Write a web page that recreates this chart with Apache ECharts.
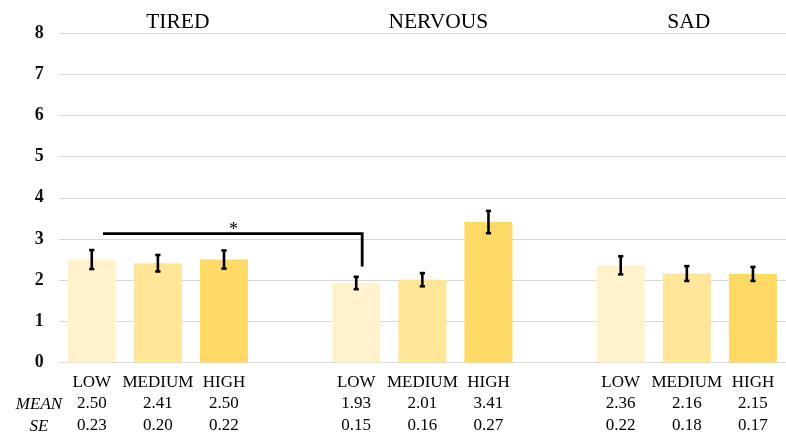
<!DOCTYPE html>
<html>
<head>
<meta charset="utf-8">
<script src="https://cdn.jsdelivr.net/npm/echarts@6/dist/echarts.min.js"></script>
<style>html,body{margin:0;padding:0;background:#fff}#c{width:786px;height:436px}</style>
</head>
<body>
<div id="c"></div>
<script>
// ---- data ----
var groups = ['TIRED', 'NERVOUS', 'SAD'];
var levels = ['LOW', 'MEDIUM', 'HIGH'];
var tiredMean = [2.50, 2.41, 2.50];
var tiredSE = [0.23, 0.20, 0.22];
var nervousMean = [1.93, 2.01, 3.41];
var nervousSE = [0.15, 0.16, 0.27];
var sadMean = [2.36, 2.16, 2.15];
var sadSE = [0.22, 0.18, 0.17];
var rowLabels = ['MEAN', 'SE'];
var yTicks = [0, 1, 2, 3, 4, 5, 6, 7, 8];
// significance bracket: from TIRED LOW to NERVOUS LOW
var bracketLevel = 3.13;
var bracketDrop = 2.33;
var bracketLabel = '*';

// ---- build ----
var levelColors = ['#FFF2CC', '#FFE699', '#FFD966'];
var means = [tiredMean, nervousMean, sadMean];
var ses = [tiredSE, nervousSE, sadSE];
var slotsPerGroup = levels.length + 1;
var cats = [], barData = [], errData = [];
groups.forEach(function (g, gi) {
  levels.forEach(function (l, li) {
    var x = gi * slotsPerGroup + li;
    cats.push(l + '\n' + means[gi][li].toFixed(2) + '\n' + ses[gi][li].toFixed(2));
    barData.push({ value: [x, means[gi][li]], itemStyle: { color: levelColors[li] } });
    errData.push([x, means[gi][li] - ses[gi][li], means[gi][li] + ses[gi][li]]);
  });
  if (gi < groups.length - 1) cats.push('');
});
var nSlots = cats.length;
var bracketX0 = 0 + 0.17;
var bracketX1 = slotsPerGroup + 0.09;
var bracketData = [[bracketX0, bracketX1, bracketLevel, bracketDrop]];

var serif = '"Liberation Serif", "Times New Roman", serif';
var chart = echarts.init(document.getElementById('c'), null, { renderer: 'canvas' });
var gridLeft = 58.7, gridTop = 33, gridBottom = 436 - 363;
var slotW = 66.55;
var gridRight = 786 - (gridLeft + slotW * nSlots);

var option = {
  animation: false,
  backgroundColor: '#fff',
  grid: { left: gridLeft, right: gridRight, top: gridTop, bottom: gridBottom, containLabel: false },
  xAxis: [
    { type: 'value', min: -0.5, max: nSlots - 0.5, show: false },
    {
      type: 'category', data: cats, boundaryGap: true, position: 'bottom',
      axisLine: { show: false }, axisTick: { show: false },
      axisLabel: {
        interval: 0, margin: 9, color: '#000', fontFamily: serif, fontSize: 17, lineHeight: 21.5
      }
    }
  ],
  yAxis: {
    type: 'value', min: 0, max: 8, interval: 1,
    axisLine: { show: false }, axisTick: { show: false },
    axisLabel: { color: '#111', fontFamily: serif, fontWeight: 'bold', fontSize: 18, margin: 15 },
    splitLine: { lineStyle: { color: '#d9d9d9', width: 1.2 } }
  },
  series: [
    {
      type: 'bar', xAxisIndex: 0, data: barData, barWidth: 48, z: 2
    },
    {
      type: 'custom', xAxisIndex: 0, data: errData, z: 5,
      renderItem: function (params, api) {
        var x = api.value(0);
        var lo = api.coord([x, api.value(1)]);
        var hi = api.coord([x, api.value(2)]);
        var cw = 2.6;
        var st = { stroke: '#000', lineWidth: 2.6 };
        return {
          type: 'group',
          children: [
            { type: 'line', shape: { x1: lo[0], y1: lo[1], x2: hi[0], y2: hi[1] }, style: st },
            { type: 'line', shape: { x1: lo[0] - cw, y1: lo[1], x2: lo[0] + cw, y2: lo[1] }, style: st },
            { type: 'line', shape: { x1: hi[0] - cw, y1: hi[1], x2: hi[0] + cw, y2: hi[1] }, style: st }
          ]
        };
      }
    },
    {
      type: 'custom', xAxisIndex: 0, data: bracketData, z: 6, clip: false,
      renderItem: function (params, api) {
        var a = api.coord([api.value(0), api.value(2)]);
        var b = api.coord([api.value(1), api.value(2)]);
        var c = api.coord([api.value(1), api.value(3)]);
        return {
          type: 'group',
          children: [
            { type: 'polyline', shape: { points: [a, b, c] }, style: { stroke: '#000', lineWidth: 2.8, fill: null } },
            { type: 'text', x: (a[0] + b[0]) / 2 + 1, y: a[1] + 6,
              style: { text: bracketLabel, fontFamily: serif, fontSize: 18, fill: '#000', textAlign: 'center', textVerticalAlign: 'bottom' } }
          ]
        };
      }
    }
  ]
};
chart.setOption(option);

// group titles and row labels
var g = [];
groups.forEach(function (name, gi) {
  var centerX = chart.convertToPixel({ xAxisIndex: 0 }, gi * slotsPerGroup + 1);
  var offs = [20, 16, 2];
  g.push({ type: 'text', x: centerX + offs[gi], y: 22,
    style: { text: name, fontFamily: serif, fontSize: 21.5, fill: '#000', textAlign: 'center', textVerticalAlign: 'middle' } });
});
rowLabels.forEach(function (t, i) {
  g.push({ type: 'text', x: 39, y: 405 + i * 21.5,
    style: { text: t, fontFamily: serif, fontStyle: 'italic', fontSize: 17, fill: '#000', textAlign: 'center', textVerticalAlign: 'middle' } });
});
chart.setOption({ graphic: g });
</script>
</body>
</html>
